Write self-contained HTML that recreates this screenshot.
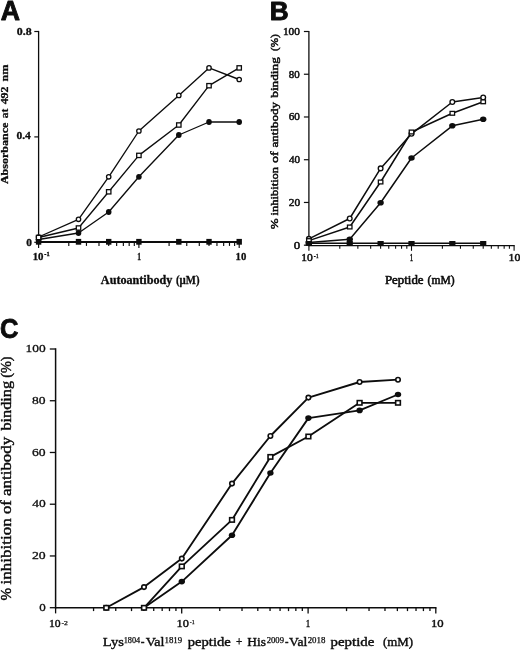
<!DOCTYPE html>
<html><head><meta charset="utf-8"><title>Figure</title>
<style>
html,body{margin:0;padding:0;background:#fff;}
body{width:520px;height:651px;overflow:hidden;font-family:"Liberation Serif",serif;}
svg{display:block;filter:blur(0.35px);}
</style></head><body>
<svg width="520" height="651" viewBox="0 0 520 651">
<rect width="520" height="651" fill="#fff"/>
<line x1="38.60" y1="30.90" x2="38.60" y2="242.90" stroke="#0d0d0d" stroke-width="1.3"/>
<line x1="38.60" y1="242.30" x2="239.80" y2="242.30" stroke="#0d0d0d" stroke-width="1.3"/>
<line x1="34.30" y1="31.50" x2="38.60" y2="31.50" stroke="#0d0d0d" stroke-width="1.2"/>
<line x1="34.30" y1="136.90" x2="38.60" y2="136.90" stroke="#0d0d0d" stroke-width="1.2"/>
<line x1="34.30" y1="242.30" x2="38.60" y2="242.30" stroke="#0d0d0d" stroke-width="1.2"/>
<line x1="38.60" y1="242.30" x2="38.60" y2="248.10" stroke="#0d0d0d" stroke-width="1.15"/>
<line x1="68.79" y1="242.30" x2="68.79" y2="245.90" stroke="#0d0d0d" stroke-width="1.15"/>
<line x1="86.46" y1="242.30" x2="86.46" y2="245.90" stroke="#0d0d0d" stroke-width="1.15"/>
<line x1="98.99" y1="242.30" x2="98.99" y2="245.90" stroke="#0d0d0d" stroke-width="1.15"/>
<line x1="108.71" y1="242.30" x2="108.71" y2="245.90" stroke="#0d0d0d" stroke-width="1.15"/>
<line x1="116.65" y1="242.30" x2="116.65" y2="245.90" stroke="#0d0d0d" stroke-width="1.15"/>
<line x1="123.36" y1="242.30" x2="123.36" y2="245.90" stroke="#0d0d0d" stroke-width="1.15"/>
<line x1="129.18" y1="242.30" x2="129.18" y2="245.90" stroke="#0d0d0d" stroke-width="1.15"/>
<line x1="134.31" y1="242.30" x2="134.31" y2="245.90" stroke="#0d0d0d" stroke-width="1.15"/>
<line x1="138.90" y1="242.30" x2="138.90" y2="248.10" stroke="#0d0d0d" stroke-width="1.15"/>
<line x1="169.09" y1="242.30" x2="169.09" y2="245.90" stroke="#0d0d0d" stroke-width="1.15"/>
<line x1="186.76" y1="242.30" x2="186.76" y2="245.90" stroke="#0d0d0d" stroke-width="1.15"/>
<line x1="199.29" y1="242.30" x2="199.29" y2="245.90" stroke="#0d0d0d" stroke-width="1.15"/>
<line x1="209.01" y1="242.30" x2="209.01" y2="245.90" stroke="#0d0d0d" stroke-width="1.15"/>
<line x1="216.95" y1="242.30" x2="216.95" y2="245.90" stroke="#0d0d0d" stroke-width="1.15"/>
<line x1="223.66" y1="242.30" x2="223.66" y2="245.90" stroke="#0d0d0d" stroke-width="1.15"/>
<line x1="229.48" y1="242.30" x2="229.48" y2="245.90" stroke="#0d0d0d" stroke-width="1.15"/>
<line x1="234.61" y1="242.30" x2="234.61" y2="245.90" stroke="#0d0d0d" stroke-width="1.15"/>
<line x1="239.20" y1="242.30" x2="239.20" y2="248.10" stroke="#0d0d0d" stroke-width="1.15"/>
<text x="16.73" y="34.60" font-family="Liberation Serif" font-size="10.5" font-weight="bold" fill="#0d0d0d" textLength="14.87" lengthAdjust="spacingAndGlyphs" stroke="#0d0d0d" stroke-width="0.3" stroke-linejoin="round">0.8</text>
<text x="16.45" y="139.10" font-family="Liberation Serif" font-size="10.5" font-weight="bold" fill="#0d0d0d" textLength="14.38" lengthAdjust="spacingAndGlyphs" stroke="#0d0d0d" stroke-width="0.3" stroke-linejoin="round">0.4</text>
<text x="26.25" y="246.00" font-family="Liberation Serif" font-size="10.5" font-weight="bold" fill="#0d0d0d" textLength="5.70" lengthAdjust="spacingAndGlyphs" stroke="#0d0d0d" stroke-width="0.3" stroke-linejoin="round">0</text>
<text x="32.68" y="259.60" font-family="Liberation Serif" font-size="10.5" font-weight="bold" fill="#0d0d0d" textLength="10.85" lengthAdjust="spacingAndGlyphs" stroke="#0d0d0d" stroke-width="0.3" stroke-linejoin="round">10</text>
<text x="44.32" y="256.20" font-family="Liberation Serif" font-size="6.5" font-weight="bold" fill="#0d0d0d" textLength="5.44" lengthAdjust="spacingAndGlyphs" stroke="#0d0d0d" stroke-width="0.3" stroke-linejoin="round">-1</text>
<text x="137.24" y="259.60" font-family="Liberation Serif" font-size="10.5" font-weight="bold" fill="#0d0d0d" textLength="3.78" lengthAdjust="spacingAndGlyphs" stroke="#0d0d0d" stroke-width="0.3" stroke-linejoin="round">1</text>
<text x="235.59" y="259.60" font-family="Liberation Serif" font-size="10.5" font-weight="bold" fill="#0d0d0d" textLength="10.73" lengthAdjust="spacingAndGlyphs" stroke="#0d0d0d" stroke-width="0.3" stroke-linejoin="round">10</text>
<text x="100.89" y="284.00" font-family="Liberation Serif" font-size="11.7" font-weight="bold" fill="#0d0d0d" textLength="71.53" lengthAdjust="spacingAndGlyphs" stroke="#0d0d0d" stroke-width="0.3" stroke-linejoin="round">Autoantibody</text>
<text x="175.92" y="284.00" font-family="Liberation Serif" font-size="11.7" font-weight="bold" fill="#0d0d0d" textLength="23.57" lengthAdjust="spacingAndGlyphs" stroke="#0d0d0d" stroke-width="0.3" stroke-linejoin="round">(µM)</text>
<text x="8.30" y="184.11" font-family="Liberation Serif" font-size="10.8" font-weight="bold" fill="#0d0d0d" textLength="61.52" lengthAdjust="spacingAndGlyphs" transform="rotate(-90 8.30 184.11)" stroke="#0d0d0d" stroke-width="0.3" stroke-linejoin="round">Absorbance</text>
<text x="8.30" y="118.29" font-family="Liberation Serif" font-size="10.8" font-weight="bold" fill="#0d0d0d" textLength="9.58" lengthAdjust="spacingAndGlyphs" transform="rotate(-90 8.30 118.29)" stroke="#0d0d0d" stroke-width="0.3" stroke-linejoin="round">at</text>
<text x="8.30" y="104.37" font-family="Liberation Serif" font-size="10.8" font-weight="bold" fill="#0d0d0d" textLength="17.90" lengthAdjust="spacingAndGlyphs" transform="rotate(-90 8.30 104.37)" stroke="#0d0d0d" stroke-width="0.3" stroke-linejoin="round">492</text>
<text x="8.30" y="81.46" font-family="Liberation Serif" font-size="10.8" font-weight="bold" fill="#0d0d0d" textLength="17.08" lengthAdjust="spacingAndGlyphs" transform="rotate(-90 8.30 81.46)" stroke="#0d0d0d" stroke-width="0.3" stroke-linejoin="round">nm</text>
<text x="0.68" y="19.90" font-family="Liberation Sans" font-size="27.0" font-weight="bold" fill="#0d0d0d" textLength="19.26" lengthAdjust="spacingAndGlyphs" stroke="#0d0d0d" stroke-width="0.9" stroke-linejoin="round">A</text>
<polyline fill="none" stroke="#0d0d0d" stroke-width="1.5" stroke-linejoin="round" points="38.60,241.80 78.51,241.80 108.71,241.80 138.90,241.80 178.81,241.80 209.01,241.80 239.20,241.80"/>
<polyline fill="none" stroke="#0d0d0d" stroke-width="1.35" stroke-linejoin="round" points="38.60,239.50 78.51,233.00 108.71,212.00 138.90,176.80 178.81,135.00 209.01,122.00 239.20,122.00"/>
<polyline fill="none" stroke="#0d0d0d" stroke-width="1.35" stroke-linejoin="round" points="38.60,237.50 78.51,228.00 108.71,191.80 138.90,155.40 178.81,125.00 209.01,85.70 239.20,67.90"/>
<polyline fill="none" stroke="#0d0d0d" stroke-width="1.35" stroke-linejoin="round" points="38.60,237.00 78.51,219.30 108.71,176.80 138.90,131.00 178.81,95.40 209.01,67.90 239.20,79.50"/>
<rect x="35.90" y="238.90" width="5.4" height="5.8" fill="#0d0d0d"/>
<rect x="75.81" y="238.90" width="5.4" height="5.8" fill="#0d0d0d"/>
<rect x="106.01" y="238.90" width="5.4" height="5.8" fill="#0d0d0d"/>
<rect x="136.20" y="238.90" width="5.4" height="5.8" fill="#0d0d0d"/>
<rect x="176.11" y="238.90" width="5.4" height="5.8" fill="#0d0d0d"/>
<rect x="206.31" y="238.90" width="5.4" height="5.8" fill="#0d0d0d"/>
<rect x="236.50" y="238.90" width="5.4" height="5.8" fill="#0d0d0d"/>
<ellipse cx="38.60" cy="239.50" rx="2.8000000000000003" ry="2.9" fill="#0d0d0d"/>
<ellipse cx="78.51" cy="233.00" rx="2.8000000000000003" ry="2.9" fill="#0d0d0d"/>
<ellipse cx="108.71" cy="212.00" rx="2.8000000000000003" ry="2.9" fill="#0d0d0d"/>
<ellipse cx="138.90" cy="176.80" rx="2.8000000000000003" ry="2.9" fill="#0d0d0d"/>
<ellipse cx="178.81" cy="135.00" rx="2.8000000000000003" ry="2.9" fill="#0d0d0d"/>
<ellipse cx="209.01" cy="122.00" rx="2.8000000000000003" ry="2.9" fill="#0d0d0d"/>
<ellipse cx="239.20" cy="122.00" rx="2.8000000000000003" ry="2.9" fill="#0d0d0d"/>
<circle cx="38.60" cy="237.00" r="2.2" fill="#fff" stroke="#0d0d0d" stroke-width="1.3"/>
<circle cx="78.51" cy="219.30" r="2.2" fill="#fff" stroke="#0d0d0d" stroke-width="1.3"/>
<circle cx="108.71" cy="176.80" r="2.2" fill="#fff" stroke="#0d0d0d" stroke-width="1.3"/>
<circle cx="138.90" cy="131.00" r="2.2" fill="#fff" stroke="#0d0d0d" stroke-width="1.3"/>
<circle cx="178.81" cy="95.40" r="2.2" fill="#fff" stroke="#0d0d0d" stroke-width="1.3"/>
<circle cx="209.01" cy="67.90" r="2.2" fill="#fff" stroke="#0d0d0d" stroke-width="1.3"/>
<circle cx="239.20" cy="79.50" r="2.2" fill="#fff" stroke="#0d0d0d" stroke-width="1.3"/>
<rect x="36.40" y="235.35" width="4.4" height="4.3" fill="#fff" stroke="#0d0d0d" stroke-width="1.3"/>
<rect x="76.31" y="225.85" width="4.4" height="4.3" fill="#fff" stroke="#0d0d0d" stroke-width="1.3"/>
<rect x="106.51" y="189.65" width="4.4" height="4.3" fill="#fff" stroke="#0d0d0d" stroke-width="1.3"/>
<rect x="136.70" y="153.25" width="4.4" height="4.3" fill="#fff" stroke="#0d0d0d" stroke-width="1.3"/>
<rect x="176.61" y="122.85" width="4.4" height="4.3" fill="#fff" stroke="#0d0d0d" stroke-width="1.3"/>
<rect x="206.81" y="83.55" width="4.4" height="4.3" fill="#fff" stroke="#0d0d0d" stroke-width="1.3"/>
<rect x="237.00" y="65.75" width="4.4" height="4.3" fill="#fff" stroke="#0d0d0d" stroke-width="1.3"/>
<line x1="308.90" y1="30.90" x2="308.90" y2="246.20" stroke="#0d0d0d" stroke-width="1.3"/>
<line x1="308.90" y1="245.60" x2="514.70" y2="245.60" stroke="#0d0d0d" stroke-width="1.3"/>
<line x1="303.90" y1="31.50" x2="308.90" y2="31.50" stroke="#0d0d0d" stroke-width="1.2"/>
<text x="282.96" y="34.80" font-family="Liberation Serif" font-size="9.8" font-weight="normal" fill="#0d0d0d" textLength="17.01" lengthAdjust="spacingAndGlyphs" stroke="#0d0d0d" stroke-width="0.45" stroke-linejoin="round">100</text>
<line x1="303.90" y1="74.24" x2="308.90" y2="74.24" stroke="#0d0d0d" stroke-width="1.2"/>
<text x="288.84" y="77.54" font-family="Liberation Serif" font-size="9.8" font-weight="normal" fill="#0d0d0d" textLength="10.91" lengthAdjust="spacingAndGlyphs" stroke="#0d0d0d" stroke-width="0.45" stroke-linejoin="round">80</text>
<line x1="303.90" y1="116.98" x2="308.90" y2="116.98" stroke="#0d0d0d" stroke-width="1.2"/>
<text x="288.78" y="120.28" font-family="Liberation Serif" font-size="9.8" font-weight="normal" fill="#0d0d0d" textLength="11.19" lengthAdjust="spacingAndGlyphs" stroke="#0d0d0d" stroke-width="0.45" stroke-linejoin="round">60</text>
<line x1="303.90" y1="159.72" x2="308.90" y2="159.72" stroke="#0d0d0d" stroke-width="1.2"/>
<text x="289.06" y="163.02" font-family="Liberation Serif" font-size="9.8" font-weight="normal" fill="#0d0d0d" textLength="11.11" lengthAdjust="spacingAndGlyphs" stroke="#0d0d0d" stroke-width="0.45" stroke-linejoin="round">40</text>
<line x1="303.90" y1="202.46" x2="308.90" y2="202.46" stroke="#0d0d0d" stroke-width="1.2"/>
<text x="288.77" y="205.76" font-family="Liberation Serif" font-size="9.8" font-weight="normal" fill="#0d0d0d" textLength="11.41" lengthAdjust="spacingAndGlyphs" stroke="#0d0d0d" stroke-width="0.45" stroke-linejoin="round">20</text>
<line x1="303.90" y1="245.20" x2="308.90" y2="245.20" stroke="#0d0d0d" stroke-width="1.2"/>
<text x="293.77" y="248.50" font-family="Liberation Serif" font-size="9.8" font-weight="normal" fill="#0d0d0d" textLength="6.45" lengthAdjust="spacingAndGlyphs" stroke="#0d0d0d" stroke-width="0.45" stroke-linejoin="round">0</text>
<line x1="308.90" y1="245.60" x2="308.90" y2="250.80" stroke="#0d0d0d" stroke-width="1.1"/>
<line x1="339.79" y1="245.60" x2="339.79" y2="248.80" stroke="#0d0d0d" stroke-width="1.1"/>
<line x1="357.85" y1="245.60" x2="357.85" y2="248.80" stroke="#0d0d0d" stroke-width="1.1"/>
<line x1="370.67" y1="245.60" x2="370.67" y2="248.80" stroke="#0d0d0d" stroke-width="1.1"/>
<line x1="380.61" y1="245.60" x2="380.61" y2="248.80" stroke="#0d0d0d" stroke-width="1.1"/>
<line x1="388.74" y1="245.60" x2="388.74" y2="248.80" stroke="#0d0d0d" stroke-width="1.1"/>
<line x1="395.61" y1="245.60" x2="395.61" y2="248.80" stroke="#0d0d0d" stroke-width="1.1"/>
<line x1="401.56" y1="245.60" x2="401.56" y2="248.80" stroke="#0d0d0d" stroke-width="1.1"/>
<line x1="406.81" y1="245.60" x2="406.81" y2="248.80" stroke="#0d0d0d" stroke-width="1.1"/>
<line x1="411.50" y1="245.60" x2="411.50" y2="250.80" stroke="#0d0d0d" stroke-width="1.1"/>
<line x1="442.39" y1="245.60" x2="442.39" y2="248.80" stroke="#0d0d0d" stroke-width="1.1"/>
<line x1="460.45" y1="245.60" x2="460.45" y2="248.80" stroke="#0d0d0d" stroke-width="1.1"/>
<line x1="473.27" y1="245.60" x2="473.27" y2="248.80" stroke="#0d0d0d" stroke-width="1.1"/>
<line x1="483.21" y1="245.60" x2="483.21" y2="248.80" stroke="#0d0d0d" stroke-width="1.1"/>
<line x1="491.34" y1="245.60" x2="491.34" y2="248.80" stroke="#0d0d0d" stroke-width="1.1"/>
<line x1="498.21" y1="245.60" x2="498.21" y2="248.80" stroke="#0d0d0d" stroke-width="1.1"/>
<line x1="504.16" y1="245.60" x2="504.16" y2="248.80" stroke="#0d0d0d" stroke-width="1.1"/>
<line x1="509.41" y1="245.60" x2="509.41" y2="248.80" stroke="#0d0d0d" stroke-width="1.1"/>
<line x1="514.10" y1="245.60" x2="514.10" y2="250.80" stroke="#0d0d0d" stroke-width="1.1"/>
<text x="301.34" y="261.10" font-family="Liberation Serif" font-size="10.0" font-weight="normal" fill="#0d0d0d" textLength="11.53" lengthAdjust="spacingAndGlyphs" stroke="#0d0d0d" stroke-width="0.45" stroke-linejoin="round">10</text>
<text x="313.74" y="257.60" font-family="Liberation Serif" font-size="6.2" font-weight="normal" fill="#0d0d0d" textLength="4.95" lengthAdjust="spacingAndGlyphs" stroke="#0d0d0d" stroke-width="0.3" stroke-linejoin="round">-1</text>
<text x="409.84" y="261.10" font-family="Liberation Serif" font-size="10.0" font-weight="normal" fill="#0d0d0d" textLength="3.45" lengthAdjust="spacingAndGlyphs" stroke="#0d0d0d" stroke-width="0.45" stroke-linejoin="round">1</text>
<text x="508.52" y="261.10" font-family="Liberation Serif" font-size="10.0" font-weight="normal" fill="#0d0d0d" textLength="11.88" lengthAdjust="spacingAndGlyphs" stroke="#0d0d0d" stroke-width="0.45" stroke-linejoin="round">10</text>
<text x="384.95" y="284.10" font-family="Liberation Serif" font-size="11.5" font-weight="normal" fill="#0d0d0d" textLength="38.62" lengthAdjust="spacingAndGlyphs" stroke="#0d0d0d" stroke-width="0.55" stroke-linejoin="round">Peptide</text>
<text x="427.61" y="284.10" font-family="Liberation Serif" font-size="11.5" font-weight="normal" fill="#0d0d0d" textLength="27.01" lengthAdjust="spacingAndGlyphs" stroke="#0d0d0d" stroke-width="0.55" stroke-linejoin="round">(mM)</text>
<text x="278.40" y="229.34" font-family="Liberation Serif" font-size="11.2" font-weight="normal" fill="#0d0d0d" textLength="10.82" lengthAdjust="spacingAndGlyphs" transform="rotate(-90 278.40 229.34)" stroke="#0d0d0d" stroke-width="0.5" stroke-linejoin="round">%</text>
<text x="278.40" y="215.50" font-family="Liberation Serif" font-size="11.2" font-weight="normal" fill="#0d0d0d" textLength="48.63" lengthAdjust="spacingAndGlyphs" transform="rotate(-90 278.40 215.50)" stroke="#0d0d0d" stroke-width="0.5" stroke-linejoin="round">inhibition</text>
<text x="278.40" y="163.04" font-family="Liberation Serif" font-size="11.2" font-weight="normal" fill="#0d0d0d" textLength="11.56" lengthAdjust="spacingAndGlyphs" transform="rotate(-90 278.40 163.04)" stroke="#0d0d0d" stroke-width="0.5" stroke-linejoin="round">of</text>
<text x="278.40" y="147.50" font-family="Liberation Serif" font-size="11.2" font-weight="normal" fill="#0d0d0d" textLength="45.45" lengthAdjust="spacingAndGlyphs" transform="rotate(-90 278.40 147.50)" stroke="#0d0d0d" stroke-width="0.5" stroke-linejoin="round">antibody</text>
<text x="278.40" y="97.75" font-family="Liberation Serif" font-size="11.2" font-weight="normal" fill="#0d0d0d" textLength="40.61" lengthAdjust="spacingAndGlyphs" transform="rotate(-90 278.40 97.75)" stroke="#0d0d0d" stroke-width="0.5" stroke-linejoin="round">binding</text>
<text x="278.40" y="51.00" font-family="Liberation Serif" font-size="11.2" font-weight="normal" fill="#0d0d0d" textLength="16.74" lengthAdjust="spacingAndGlyphs" transform="rotate(-90 278.40 51.00)" stroke="#0d0d0d" stroke-width="0.5" stroke-linejoin="round">(%)</text>
<text x="269.75" y="20.00" font-family="Liberation Sans" font-size="25.6" font-weight="bold" fill="#0d0d0d" textLength="18.91" lengthAdjust="spacingAndGlyphs" stroke="#0d0d0d" stroke-width="0.9" stroke-linejoin="round">B</text>
<polyline fill="none" stroke="#0d0d0d" stroke-width="1.6" stroke-linejoin="round" points="308.90,243.30 349.73,243.30 380.61,243.30 411.50,243.30 452.33,243.30 483.21,243.30"/>
<polyline fill="none" stroke="#0d0d0d" stroke-width="1.5" stroke-linejoin="round" points="308.90,242.50 349.73,239.20 380.61,202.80 411.50,158.00 452.33,125.80 483.21,119.30"/>
<polyline fill="none" stroke="#0d0d0d" stroke-width="1.5" stroke-linejoin="round" points="308.90,240.60 349.73,227.00 380.61,182.00 411.50,132.00 452.33,113.30 483.21,101.80"/>
<polyline fill="none" stroke="#0d0d0d" stroke-width="1.5" stroke-linejoin="round" points="308.90,238.80 349.73,218.50 380.61,168.40 411.50,133.80 452.33,102.00 483.21,97.50"/>
<rect x="305.80" y="241.00" width="6.2" height="4.6" fill="#0d0d0d"/>
<rect x="346.63" y="241.00" width="6.2" height="4.6" fill="#0d0d0d"/>
<rect x="377.51" y="241.00" width="6.2" height="4.6" fill="#0d0d0d"/>
<rect x="408.40" y="241.00" width="6.2" height="4.6" fill="#0d0d0d"/>
<rect x="449.23" y="241.00" width="6.2" height="4.6" fill="#0d0d0d"/>
<rect x="480.11" y="241.00" width="6.2" height="4.6" fill="#0d0d0d"/>
<ellipse cx="308.90" cy="242.50" rx="3.2" ry="2.8" fill="#0d0d0d"/>
<ellipse cx="349.73" cy="239.20" rx="3.2" ry="2.8" fill="#0d0d0d"/>
<ellipse cx="380.61" cy="202.80" rx="3.2" ry="2.8" fill="#0d0d0d"/>
<ellipse cx="411.50" cy="158.00" rx="3.2" ry="2.8" fill="#0d0d0d"/>
<ellipse cx="452.33" cy="125.80" rx="3.2" ry="2.8" fill="#0d0d0d"/>
<ellipse cx="483.21" cy="119.30" rx="3.2" ry="2.8" fill="#0d0d0d"/>
<circle cx="308.90" cy="238.80" r="2.35" fill="#fff" stroke="#0d0d0d" stroke-width="1.35"/>
<circle cx="349.73" cy="218.50" r="2.35" fill="#fff" stroke="#0d0d0d" stroke-width="1.35"/>
<circle cx="380.61" cy="168.40" r="2.35" fill="#fff" stroke="#0d0d0d" stroke-width="1.35"/>
<circle cx="411.50" cy="133.80" r="2.35" fill="#fff" stroke="#0d0d0d" stroke-width="1.35"/>
<circle cx="452.33" cy="102.00" r="2.35" fill="#fff" stroke="#0d0d0d" stroke-width="1.35"/>
<circle cx="483.21" cy="97.50" r="2.35" fill="#fff" stroke="#0d0d0d" stroke-width="1.35"/>
<rect x="306.65" y="238.70" width="4.5" height="3.8" fill="#fff" stroke="#0d0d0d" stroke-width="1.3"/>
<rect x="347.48" y="225.10" width="4.5" height="3.8" fill="#fff" stroke="#0d0d0d" stroke-width="1.3"/>
<rect x="378.36" y="180.10" width="4.5" height="3.8" fill="#fff" stroke="#0d0d0d" stroke-width="1.3"/>
<rect x="409.25" y="130.10" width="4.5" height="3.8" fill="#fff" stroke="#0d0d0d" stroke-width="1.3"/>
<rect x="450.08" y="111.40" width="4.5" height="3.8" fill="#fff" stroke="#0d0d0d" stroke-width="1.3"/>
<rect x="480.96" y="99.90" width="4.5" height="3.8" fill="#fff" stroke="#0d0d0d" stroke-width="1.3"/>
<rect x="305.80" y="241.00" width="6.2" height="4.6" fill="#0d0d0d"/>
<line x1="55.60" y1="348.30" x2="55.60" y2="608.40" stroke="#0d0d0d" stroke-width="1.5"/>
<line x1="55.60" y1="607.70" x2="436.50" y2="607.70" stroke="#0d0d0d" stroke-width="1.5"/>
<line x1="49.80" y1="349.00" x2="55.60" y2="349.00" stroke="#0d0d0d" stroke-width="1.3"/>
<text x="25.51" y="352.05" font-family="Liberation Serif" font-size="11.4" font-weight="normal" fill="#0d0d0d" textLength="20.11" lengthAdjust="spacingAndGlyphs" stroke="#0d0d0d" stroke-width="0.3" stroke-linejoin="round">100</text>
<line x1="49.80" y1="400.74" x2="55.60" y2="400.74" stroke="#0d0d0d" stroke-width="1.3"/>
<text x="32.08" y="403.79" font-family="Liberation Serif" font-size="11.4" font-weight="normal" fill="#0d0d0d" textLength="13.55" lengthAdjust="spacingAndGlyphs" stroke="#0d0d0d" stroke-width="0.3" stroke-linejoin="round">80</text>
<line x1="49.80" y1="452.48" x2="55.60" y2="452.48" stroke="#0d0d0d" stroke-width="1.3"/>
<text x="32.01" y="455.53" font-family="Liberation Serif" font-size="11.4" font-weight="normal" fill="#0d0d0d" textLength="13.62" lengthAdjust="spacingAndGlyphs" stroke="#0d0d0d" stroke-width="0.3" stroke-linejoin="round">60</text>
<line x1="49.80" y1="504.22" x2="55.60" y2="504.22" stroke="#0d0d0d" stroke-width="1.3"/>
<text x="32.25" y="507.27" font-family="Liberation Serif" font-size="11.4" font-weight="normal" fill="#0d0d0d" textLength="13.47" lengthAdjust="spacingAndGlyphs" stroke="#0d0d0d" stroke-width="0.3" stroke-linejoin="round">40</text>
<line x1="49.80" y1="555.96" x2="55.60" y2="555.96" stroke="#0d0d0d" stroke-width="1.3"/>
<text x="32.00" y="559.01" font-family="Liberation Serif" font-size="11.4" font-weight="normal" fill="#0d0d0d" textLength="13.73" lengthAdjust="spacingAndGlyphs" stroke="#0d0d0d" stroke-width="0.3" stroke-linejoin="round">20</text>
<line x1="49.80" y1="607.70" x2="55.60" y2="607.70" stroke="#0d0d0d" stroke-width="1.3"/>
<text x="39.19" y="610.75" font-family="Liberation Serif" font-size="11.4" font-weight="normal" fill="#0d0d0d" textLength="6.51" lengthAdjust="spacingAndGlyphs" stroke="#0d0d0d" stroke-width="0.3" stroke-linejoin="round">0</text>
<line x1="55.60" y1="607.70" x2="55.60" y2="613.40" stroke="#0d0d0d" stroke-width="1.3"/>
<line x1="93.56" y1="607.70" x2="93.56" y2="611.10" stroke="#0d0d0d" stroke-width="1.3"/>
<line x1="115.76" y1="607.70" x2="115.76" y2="611.10" stroke="#0d0d0d" stroke-width="1.3"/>
<line x1="131.52" y1="607.70" x2="131.52" y2="611.10" stroke="#0d0d0d" stroke-width="1.3"/>
<line x1="143.74" y1="607.70" x2="143.74" y2="611.10" stroke="#0d0d0d" stroke-width="1.3"/>
<line x1="153.72" y1="607.70" x2="153.72" y2="611.10" stroke="#0d0d0d" stroke-width="1.3"/>
<line x1="162.17" y1="607.70" x2="162.17" y2="611.10" stroke="#0d0d0d" stroke-width="1.3"/>
<line x1="169.48" y1="607.70" x2="169.48" y2="611.10" stroke="#0d0d0d" stroke-width="1.3"/>
<line x1="175.93" y1="607.70" x2="175.93" y2="611.10" stroke="#0d0d0d" stroke-width="1.3"/>
<line x1="181.70" y1="607.70" x2="181.70" y2="613.40" stroke="#0d0d0d" stroke-width="1.3"/>
<line x1="219.75" y1="607.70" x2="219.75" y2="611.10" stroke="#0d0d0d" stroke-width="1.3"/>
<line x1="242.01" y1="607.70" x2="242.01" y2="611.10" stroke="#0d0d0d" stroke-width="1.3"/>
<line x1="257.80" y1="607.70" x2="257.80" y2="611.10" stroke="#0d0d0d" stroke-width="1.3"/>
<line x1="270.05" y1="607.70" x2="270.05" y2="611.10" stroke="#0d0d0d" stroke-width="1.3"/>
<line x1="280.06" y1="607.70" x2="280.06" y2="611.10" stroke="#0d0d0d" stroke-width="1.3"/>
<line x1="288.52" y1="607.70" x2="288.52" y2="611.10" stroke="#0d0d0d" stroke-width="1.3"/>
<line x1="295.85" y1="607.70" x2="295.85" y2="611.10" stroke="#0d0d0d" stroke-width="1.3"/>
<line x1="302.32" y1="607.70" x2="302.32" y2="611.10" stroke="#0d0d0d" stroke-width="1.3"/>
<line x1="308.10" y1="607.70" x2="308.10" y2="613.40" stroke="#0d0d0d" stroke-width="1.3"/>
<line x1="346.54" y1="607.70" x2="346.54" y2="611.10" stroke="#0d0d0d" stroke-width="1.3"/>
<line x1="369.03" y1="607.70" x2="369.03" y2="611.10" stroke="#0d0d0d" stroke-width="1.3"/>
<line x1="384.98" y1="607.70" x2="384.98" y2="611.10" stroke="#0d0d0d" stroke-width="1.3"/>
<line x1="397.36" y1="607.70" x2="397.36" y2="611.10" stroke="#0d0d0d" stroke-width="1.3"/>
<line x1="407.47" y1="607.70" x2="407.47" y2="611.10" stroke="#0d0d0d" stroke-width="1.3"/>
<line x1="416.02" y1="607.70" x2="416.02" y2="611.10" stroke="#0d0d0d" stroke-width="1.3"/>
<line x1="423.42" y1="607.70" x2="423.42" y2="611.10" stroke="#0d0d0d" stroke-width="1.3"/>
<line x1="429.96" y1="607.70" x2="429.96" y2="611.10" stroke="#0d0d0d" stroke-width="1.3"/>
<line x1="435.80" y1="607.70" x2="435.80" y2="613.40" stroke="#0d0d0d" stroke-width="1.3"/>
<text x="49.02" y="627.40" font-family="Liberation Serif" font-size="11.3" font-weight="normal" fill="#0d0d0d" textLength="11.68" lengthAdjust="spacingAndGlyphs" stroke="#0d0d0d" stroke-width="0.42" stroke-linejoin="round">10</text>
<text x="61.55" y="624.60" font-family="Liberation Serif" font-size="6.2" font-weight="normal" fill="#0d0d0d" textLength="6.43" lengthAdjust="spacingAndGlyphs" stroke="#0d0d0d" stroke-width="0.25" stroke-linejoin="round">-2</text>
<text x="176.46" y="627.30" font-family="Liberation Serif" font-size="11.3" font-weight="normal" fill="#0d0d0d" textLength="12.36" lengthAdjust="spacingAndGlyphs" stroke="#0d0d0d" stroke-width="0.42" stroke-linejoin="round">10</text>
<text x="189.72" y="624.40" font-family="Liberation Serif" font-size="6.2" font-weight="normal" fill="#0d0d0d" textLength="4.90" lengthAdjust="spacingAndGlyphs" stroke="#0d0d0d" stroke-width="0.25" stroke-linejoin="round">-1</text>
<text x="305.65" y="627.40" font-family="Liberation Serif" font-size="11.3" font-weight="normal" fill="#0d0d0d" textLength="4.48" lengthAdjust="spacingAndGlyphs" stroke="#0d0d0d" stroke-width="0.42" stroke-linejoin="round">1</text>
<text x="431.03" y="627.40" font-family="Liberation Serif" font-size="11.3" font-weight="normal" fill="#0d0d0d" textLength="12.70" lengthAdjust="spacingAndGlyphs" stroke="#0d0d0d" stroke-width="0.42" stroke-linejoin="round">10</text>
<text x="102.85" y="646.40" font-family="Liberation Serif" font-size="13.3" font-weight="normal" fill="#0d0d0d" textLength="21.05" lengthAdjust="spacingAndGlyphs" stroke="#0d0d0d" stroke-width="0.42" stroke-linejoin="round">Lys</text>
<text x="123.72" y="643.00" font-family="Liberation Serif" font-size="7.6" font-weight="normal" fill="#0d0d0d" textLength="16.47" lengthAdjust="spacingAndGlyphs" stroke="#0d0d0d" stroke-width="0.25" stroke-linejoin="round">1804</text>
<text x="140.72" y="646.40" font-family="Liberation Serif" font-size="13.3" font-weight="normal" fill="#0d0d0d" textLength="3.75" lengthAdjust="spacingAndGlyphs" stroke="#0d0d0d" stroke-width="0.42" stroke-linejoin="round">-</text>
<text x="145.67" y="646.40" font-family="Liberation Serif" font-size="13.3" font-weight="normal" fill="#0d0d0d" textLength="18.77" lengthAdjust="spacingAndGlyphs" stroke="#0d0d0d" stroke-width="0.42" stroke-linejoin="round">Val</text>
<text x="164.47" y="643.00" font-family="Liberation Serif" font-size="7.6" font-weight="normal" fill="#0d0d0d" textLength="17.65" lengthAdjust="spacingAndGlyphs" stroke="#0d0d0d" stroke-width="0.25" stroke-linejoin="round">1819</text>
<text x="187.69" y="646.40" font-family="Liberation Serif" font-size="13.3" font-weight="normal" fill="#0d0d0d" textLength="43.09" lengthAdjust="spacingAndGlyphs" stroke="#0d0d0d" stroke-width="0.42" stroke-linejoin="round">peptide</text>
<text x="236.01" y="646.40" font-family="Liberation Serif" font-size="13.3" font-weight="normal" fill="#0d0d0d" textLength="6.27" lengthAdjust="spacingAndGlyphs" stroke="#0d0d0d" stroke-width="0.42" stroke-linejoin="round">+</text>
<text x="247.37" y="646.40" font-family="Liberation Serif" font-size="13.3" font-weight="normal" fill="#0d0d0d" textLength="18.68" lengthAdjust="spacingAndGlyphs" stroke="#0d0d0d" stroke-width="0.42" stroke-linejoin="round">His</text>
<text x="266.68" y="643.00" font-family="Liberation Serif" font-size="7.6" font-weight="normal" fill="#0d0d0d" textLength="17.34" lengthAdjust="spacingAndGlyphs" stroke="#0d0d0d" stroke-width="0.25" stroke-linejoin="round">2009</text>
<text x="284.94" y="646.40" font-family="Liberation Serif" font-size="13.3" font-weight="normal" fill="#0d0d0d" textLength="3.49" lengthAdjust="spacingAndGlyphs" stroke="#0d0d0d" stroke-width="0.42" stroke-linejoin="round">-</text>
<text x="289.07" y="646.40" font-family="Liberation Serif" font-size="13.3" font-weight="normal" fill="#0d0d0d" textLength="18.16" lengthAdjust="spacingAndGlyphs" stroke="#0d0d0d" stroke-width="0.42" stroke-linejoin="round">Val</text>
<text x="307.67" y="643.00" font-family="Liberation Serif" font-size="7.6" font-weight="normal" fill="#0d0d0d" textLength="17.71" lengthAdjust="spacingAndGlyphs" stroke="#0d0d0d" stroke-width="0.25" stroke-linejoin="round">2018</text>
<text x="330.59" y="646.40" font-family="Liberation Serif" font-size="13.3" font-weight="normal" fill="#0d0d0d" textLength="43.80" lengthAdjust="spacingAndGlyphs" stroke="#0d0d0d" stroke-width="0.42" stroke-linejoin="round">peptide</text>
<text x="382.99" y="646.40" font-family="Liberation Serif" font-size="13.3" font-weight="normal" fill="#0d0d0d" textLength="30.15" lengthAdjust="spacingAndGlyphs" stroke="#0d0d0d" stroke-width="0.42" stroke-linejoin="round">(mM)</text>
<text x="11.40" y="600.44" font-family="Liberation Serif" font-size="14.2" font-weight="normal" fill="#0d0d0d" textLength="12.53" lengthAdjust="spacingAndGlyphs" transform="rotate(-90 11.40 600.44)" stroke="#0d0d0d" stroke-width="0.42" stroke-linejoin="round">%</text>
<text x="11.40" y="584.43" font-family="Liberation Serif" font-size="14.2" font-weight="normal" fill="#0d0d0d" textLength="66.16" lengthAdjust="spacingAndGlyphs" transform="rotate(-90 11.40 584.43)" stroke="#0d0d0d" stroke-width="0.42" stroke-linejoin="round">inhibition</text>
<text x="11.40" y="514.08" font-family="Liberation Serif" font-size="14.2" font-weight="normal" fill="#0d0d0d" textLength="14.04" lengthAdjust="spacingAndGlyphs" transform="rotate(-90 11.40 514.08)" stroke="#0d0d0d" stroke-width="0.42" stroke-linejoin="round">of</text>
<text x="11.40" y="495.98" font-family="Liberation Serif" font-size="14.2" font-weight="normal" fill="#0d0d0d" textLength="59.26" lengthAdjust="spacingAndGlyphs" transform="rotate(-90 11.40 495.98)" stroke="#0d0d0d" stroke-width="0.42" stroke-linejoin="round">antibody</text>
<text x="11.40" y="430.59" font-family="Liberation Serif" font-size="14.2" font-weight="normal" fill="#0d0d0d" textLength="49.73" lengthAdjust="spacingAndGlyphs" transform="rotate(-90 11.40 430.59)" stroke="#0d0d0d" stroke-width="0.42" stroke-linejoin="round">binding</text>
<text x="11.40" y="377.86" font-family="Liberation Serif" font-size="14.2" font-weight="normal" fill="#0d0d0d" textLength="21.38" lengthAdjust="spacingAndGlyphs" transform="rotate(-90 11.40 377.86)" stroke="#0d0d0d" stroke-width="0.42" stroke-linejoin="round">(%)</text>
<text x="0.03" y="338.20" font-family="Liberation Sans" font-size="27.0" font-weight="bold" fill="#0d0d0d" textLength="18.41" lengthAdjust="spacingAndGlyphs" stroke="#0d0d0d" stroke-width="0.9" stroke-linejoin="round">C</text>
<polyline fill="none" stroke="#0d0d0d" stroke-width="1.85" stroke-linejoin="round" points="144.00,607.80 181.80,581.60 232.00,535.30 270.40,473.00 308.40,418.10 359.60,410.40 398.00,394.50"/>
<polyline fill="none" stroke="#0d0d0d" stroke-width="1.85" stroke-linejoin="round" points="144.00,607.80 181.80,566.40 232.00,519.90 270.40,456.90 308.40,436.50 359.60,402.80 398.00,402.80"/>
<polyline fill="none" stroke="#0d0d0d" stroke-width="1.85" stroke-linejoin="round" points="106.30,607.80 144.00,587.10 181.80,558.60 232.00,483.60 270.40,436.00 308.40,397.60 359.60,382.00 398.00,379.70"/>
<ellipse cx="144.00" cy="607.80" rx="3.2" ry="2.8" fill="#0d0d0d"/>
<ellipse cx="181.80" cy="581.60" rx="3.2" ry="2.8" fill="#0d0d0d"/>
<ellipse cx="232.00" cy="535.30" rx="3.2" ry="2.8" fill="#0d0d0d"/>
<ellipse cx="270.40" cy="473.00" rx="3.2" ry="2.8" fill="#0d0d0d"/>
<ellipse cx="308.40" cy="418.10" rx="3.2" ry="2.8" fill="#0d0d0d"/>
<ellipse cx="359.60" cy="410.40" rx="3.2" ry="2.8" fill="#0d0d0d"/>
<ellipse cx="398.00" cy="394.50" rx="3.2" ry="2.8" fill="#0d0d0d"/>
<circle cx="106.30" cy="607.80" r="2.25" fill="#fff" stroke="#0d0d0d" stroke-width="1.6"/>
<circle cx="144.00" cy="587.10" r="2.25" fill="#fff" stroke="#0d0d0d" stroke-width="1.6"/>
<circle cx="181.80" cy="558.60" r="2.25" fill="#fff" stroke="#0d0d0d" stroke-width="1.6"/>
<circle cx="232.00" cy="483.60" r="2.25" fill="#fff" stroke="#0d0d0d" stroke-width="1.6"/>
<circle cx="270.40" cy="436.00" r="2.25" fill="#fff" stroke="#0d0d0d" stroke-width="1.6"/>
<circle cx="308.40" cy="397.60" r="2.25" fill="#fff" stroke="#0d0d0d" stroke-width="1.6"/>
<circle cx="359.60" cy="382.00" r="2.25" fill="#fff" stroke="#0d0d0d" stroke-width="1.6"/>
<circle cx="398.00" cy="379.70" r="2.25" fill="#fff" stroke="#0d0d0d" stroke-width="1.6"/>
<rect x="141.65" y="605.60" width="4.7" height="4.4" fill="#fff" stroke="#0d0d0d" stroke-width="1.6"/>
<rect x="179.45" y="564.20" width="4.7" height="4.4" fill="#fff" stroke="#0d0d0d" stroke-width="1.6"/>
<rect x="229.65" y="517.70" width="4.7" height="4.4" fill="#fff" stroke="#0d0d0d" stroke-width="1.6"/>
<rect x="268.05" y="454.70" width="4.7" height="4.4" fill="#fff" stroke="#0d0d0d" stroke-width="1.6"/>
<rect x="306.05" y="434.30" width="4.7" height="4.4" fill="#fff" stroke="#0d0d0d" stroke-width="1.6"/>
<rect x="357.25" y="400.60" width="4.7" height="4.4" fill="#fff" stroke="#0d0d0d" stroke-width="1.6"/>
<rect x="395.65" y="400.60" width="4.7" height="4.4" fill="#fff" stroke="#0d0d0d" stroke-width="1.6"/>
<rect x="103.95" y="605.60" width="4.7" height="4.4" fill="#fff" stroke="#0d0d0d" stroke-width="1.6"/>
</svg>
</body></html>
